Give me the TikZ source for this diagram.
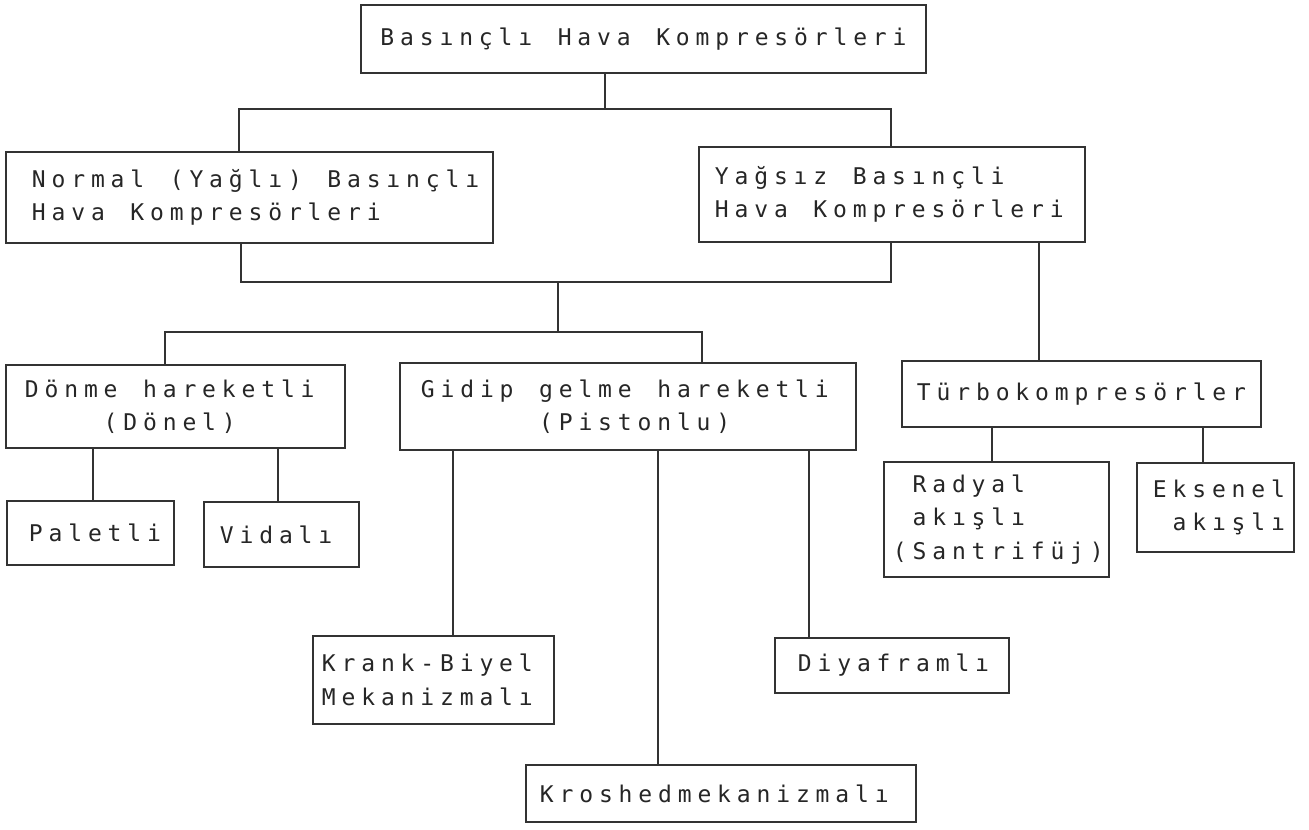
\documentclass[tikz,border=0pt]{standalone}
\usepackage{fontspec}
\newfontfamily\twf{DejaVu Sans Mono}
\newlength\pw
\setlength\pw{9.85pt}
\makeatletter
\def\mt@end{mt@end}
\newcommand\mt[1]{\mt@loop#1\mt@end}
\def\mt@loop#1{\ifx#1\mt@end\else\makebox[\pw][c]{#1}\expandafter\mt@loop\fi}
\makeatother
\begin{document}
\begin{tikzpicture}[x=0.5pt,y=-0.5pt,
  bx/.style={draw=black!80, line width=1pt, rectangle, inner sep=0pt, text=black!85,
    align=left, font=\twf\fontsize{11.5pt}{16.75pt}\selectfont},
  ln/.style={draw=black!80, line width=1pt}]
\useasboundingbox[fill=white] (0,0) rectangle (1309,829);

% boxes
\node[bx, align=center, minimum width=282.5pt, minimum height=34pt] (top) at (643.5,39) {\mt{Basınçlı~Hava~Kompresörleri}};
\node[bx, minimum width=243.5pt, minimum height=45.5pt, text width=220.5pt] (normal) at (249.5,197.5) {\mt{Normal~(Yağlı)~Basınçlı}\\\mt{Hava~Kompresörleri}};
\node[bx, minimum width=193pt, minimum height=47.5pt, text width=180pt] (yagsiz) at (892,194.5) {\mt{Yağsız~Basınçli}\\\mt{Hava~Kompresörleri}};
\node[bx, minimum width=169.5pt, minimum height=41.5pt, text width=153.5pt] (donme) at (175.5,406.5) {\mt{Dönme~hareketli}\\\mt{~~~~(Dönel)}};
\node[bx, minimum width=228pt, minimum height=43.5pt, text width=210pt] (gidip) at (628,406.5) {\mt{Gidip~gelme~hareketli}\\\mt{~~~~~~(Pistonlu)}};
\node[bx, align=center, minimum width=179.5pt, minimum height=33pt] (turbo) at (1081.5,394) {\mt{Türbokompresörler}};
\node[bx, minimum width=83.5pt, minimum height=32pt, text width=64.5pt] (paletli) at (90.5,533) {\mt{Paletli}};
\node[bx, minimum width=77.5pt, minimum height=32.5pt, text width=64.5pt] (vidali) at (281.5,534.5) {\mt{Vidalı}};
\node[bx, minimum width=112.5pt, minimum height=57.5pt, text width=106.5pt] (radyal) at (996.5,519.5) {\mt{~Radyal}\\\mt{~akışlı}\\\mt{(Santrifüj)}};
\node[bx, minimum width=78.5pt, minimum height=44.5pt, text width=65.5pt] (eksenel) at (1215.5,507.5) {\mt{Eksenel}\\\mt{~akışlı}};
\node[bx, minimum width=120.5pt, minimum height=44pt, text width=114.5pt] (krank) at (433.5,680) {\mt{Krank-Biyel}\\\mt{Mekanizmalı}};
\node[bx, minimum width=117pt, minimum height=27.5pt, text width=97pt] (diyafram) at (892,665.5) {\mt{Diyaframlı}};
\node[bx, minimum width=195pt, minimum height=28.5pt, text width=184pt] (kroshed) at (721,793.5) {\mt{Kroshedmekanizmalı}};

% junction coordinates
\coordinate (a1) at (605,109);
\coordinate (a2) at (239,109);
\coordinate (a3) at (891,109);
\coordinate (b1) at (241,282);
\coordinate (b2) at (891,282);
\coordinate (b3) at (558,282);
\coordinate (c1) at (558,332);
\coordinate (c2) at (165,332);
\coordinate (c3) at (702,332);
\coordinate (xt) at (1039,0);
\coordinate (xp) at (93,0);
\coordinate (xv) at (278,0);
\coordinate (xk) at (453,0);
\coordinate (xr) at (658,0);
\coordinate (xd) at (809,0);
\coordinate (xra) at (992,0);
\coordinate (xe) at (1203,0);

% connectors
\draw[ln] (a1 |- top.south) -- (a1);
\draw[ln] (a2 |- normal.north) -- (a2) -- (a3) -- (a3 |- yagsiz.north);
\draw[ln] (b1 |- normal.south) -- (b1) -- (b2) -- (b2 |- yagsiz.south);
\draw[ln] (b3) -- (c1);
\draw[ln] (c2 |- donme.north) -- (c2) -- (c3) -- (c3 |- gidip.north);
\draw[ln] (xt |- yagsiz.south) -- (xt |- turbo.north);
\draw[ln] (xp |- donme.south) -- (xp |- paletli.north);
\draw[ln] (xv |- donme.south) -- (xv |- vidali.north);
\draw[ln] (xk |- gidip.south) -- (xk |- krank.north);
\draw[ln] (xr |- gidip.south) -- (xr |- kroshed.north);
\draw[ln] (xd |- gidip.south) -- (xd |- diyafram.north);
\draw[ln] (xra |- turbo.south) -- (xra |- radyal.north);
\draw[ln] (xe |- turbo.south) -- (xe |- eksenel.north);
\end{tikzpicture}
\end{document}
